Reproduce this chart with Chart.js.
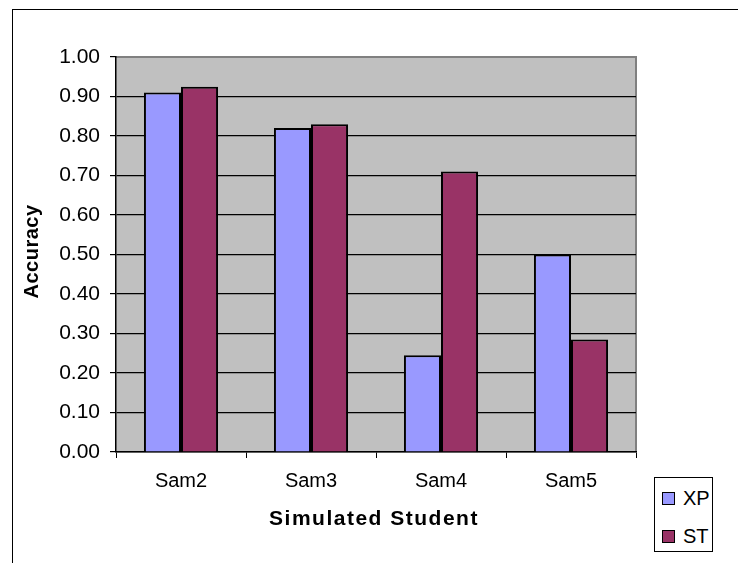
<!DOCTYPE html>
<html>
<head>
<meta charset="utf-8">
<script src="https://cdn.jsdelivr.net/npm/chart.js@4/dist/chart.umd.min.js"></script>
<style>
  html, body { margin: 0; padding: 0; background: #fff; }
  #wrap { position: relative; width: 738px; height: 563px; overflow: hidden; }
  #frame { position: absolute; left: 12px; top: 9px; right: -5px; bottom: -5px;
           border-top: 1.5px solid #000; border-left: 1.5px solid #000; }
  canvas { position: absolute; left: 0; top: 0; }
  #legend { position: absolute; left: 654px; top: 477px; width: 59px; height: 75px;
            border: 1px solid #000; background: #fff; box-sizing: border-box;
            font-family: "Liberation Sans", Arial, sans-serif; font-size: 20px; color: #000; }
  .item { position: absolute; left: 7px; display: flex; align-items: center; height: 24px; }
  .swatch { width: 11px; height: 11px; border: 1px solid #000; margin-right: 8px; }
</style>
</head>
<body>
<div id="wrap">
  <div id="frame"></div>
  <canvas id="c" width="738" height="563"></canvas>
  <div id="legend"></div>
</div>
<script>
const categories = ['Sam2', 'Sam3', 'Sam4', 'Sam5'];
const xpValues = [0.91, 0.82, 0.245, 0.50];
const stValues = [0.925, 0.83, 0.71, 0.285];
const seriesNames = ['XP', 'ST'];
const yAxisTitle = 'Accuracy';
const xAxisTitle = 'Simulated Student';
const yMin = 0, yMax = 1, yStep = 0.1;

const FONT = '"Liberation Sans", Arial, sans-serif';
const colors = ['#9999FF', '#993366'];

// gray plot background with darker top/right edge
const plotBackground = {
  id: 'plotBackground',
  beforeDraw(chart) {
    const { ctx, chartArea: a } = chart;
    ctx.save();
    ctx.fillStyle = '#C0C0C0';
    ctx.fillRect(a.left, a.top, a.right - a.left, a.bottom - a.top);
    ctx.strokeStyle = '#808080';
    ctx.lineWidth = 2;
    ctx.beginPath();
    ctx.moveTo(a.left, a.top);
    ctx.lineTo(a.right, a.top);
    ctx.lineTo(a.right, a.bottom);
    ctx.stroke();
    ctx.restore();
  }
};

// bold axis titles
const axisTitles = {
  id: 'axisTitles',
  afterDraw(chart) {
    const { ctx, chartArea: a } = chart;
    ctx.save();
    ctx.fillStyle = '#000';
    ctx.font = 'bold 20px ' + FONT;
    ctx.textAlign = 'center';
    ctx.textBaseline = 'middle';
    ctx.letterSpacing = '0.5px';
    ctx.save();
    ctx.translate(32, (a.top + a.bottom) / 2 - 3);
    ctx.rotate(-Math.PI / 2);
    ctx.fillText(yAxisTitle, 0, 0);
    ctx.restore();
    ctx.font = 'bold 21px ' + FONT;
    ctx.letterSpacing = '1.5px';
    ctx.fillText(xAxisTitle, (a.left + a.right) / 2 - 2, 519);
    ctx.restore();
  }
};

const chart = new Chart(document.getElementById('c'), {
  type: 'bar',
  data: {
    labels: categories,
    datasets: [
      { label: seriesNames[0], data: xpValues, backgroundColor: colors[0] },
      { label: seriesNames[1], data: stValues, backgroundColor: colors[1] }
    ]
  },
  options: {
    responsive: false,
    animation: false,
    devicePixelRatio: 1,
    layout: { padding: { left: 0, top: 57, right: 102, bottom: 0 } },
    datasets: {
      bar: { borderColor: '#000', borderWidth: 2, categoryPercentage: 0.57, barPercentage: 1.0 }
    },
    plugins: { legend: { display: false }, tooltip: { enabled: false } },
    scales: {
      x: {
        offset: true,
        grid: { offset: true, drawOnChartArea: false, drawTicks: true, tickLength: 6,
                color: '#000', lineWidth: 1 },
        border: { color: '#000', width: 1.5 },
        ticks: { color: '#000', font: { family: FONT, size: 20 }, padding: 11, maxRotation: 0 },
        afterFit(s) { s.height = 111; }
      },
      y: {
        min: yMin, max: yMax,
        grid: {
          color: (c) => (c.tick && Math.abs(c.tick.value - yMax) < 1e-9) ? '#808080' : '#000',
          tickColor: '#000', lineWidth: 1.2, tickLength: 6
        },
        border: { color: '#000', width: 1.5 },
        ticks: {
          stepSize: yStep, color: '#000', padding: 10,
          font: { family: FONT, size: 21 },
          callback: (v) => Number(v).toFixed(2)
        },
        afterFit(s) { s.width = 116; }
      }
    }
  },
  plugins: [plotBackground, axisTitles]
});

// legend box built from the datasets
const legend = document.getElementById('legend');
chart.data.datasets.forEach((ds, i) => {
  const item = document.createElement('div');
  item.className = 'item';
  item.style.top = (i === 0 ? 8 : 46) + 'px';
  const sw = document.createElement('span');
  sw.className = 'swatch';
  sw.style.background = ds.backgroundColor;
  const tx = document.createElement('span');
  tx.textContent = ds.label;
  item.appendChild(sw);
  item.appendChild(tx);
  legend.appendChild(item);
});
</script>
</body>
</html>
